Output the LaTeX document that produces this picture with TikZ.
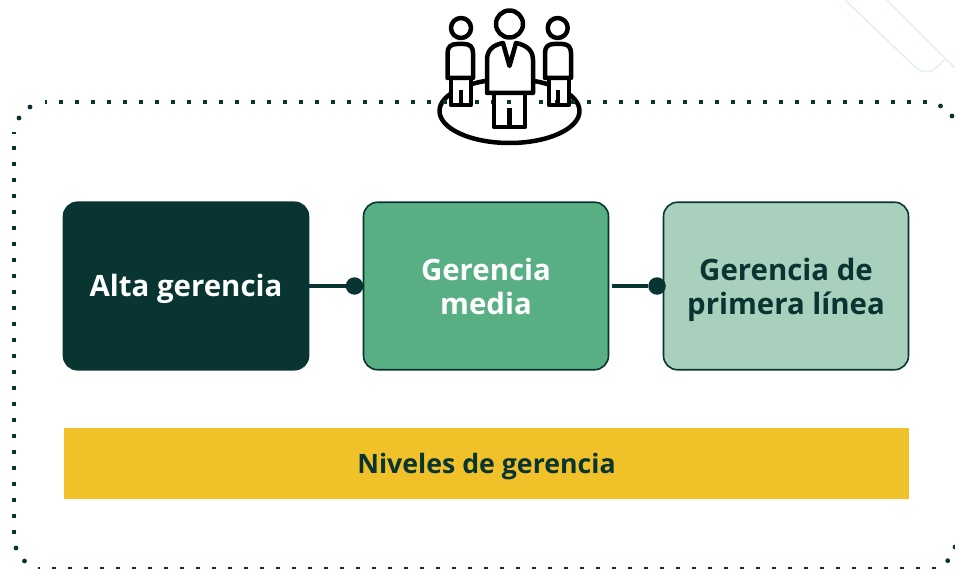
\documentclass[tikz,border=0pt]{standalone}
\usepackage{fontspec}
\setmainfont{Open Sans}
\definecolor{dark}{HTML}{083431}
\definecolor{midg}{HTML}{58AF84}
\definecolor{lightg}{HTML}{A8D0BC}
\definecolor{gold}{HTML}{F1C12A}
\definecolor{wm}{HTML}{E6F0EC}
\newcommand\shifted[2]{\raisebox{-#1}[\height][\depth]{\begin{tabular}{@{}c@{}}#2\end{tabular}}}
\tikzset{
  x=1pt,y=-1pt,
  levelbox/.style={draw=dark,line width=1.6pt,rounded corners=14pt,minimum width=245pt,minimum height=167.5pt,align=center,font=\fontsize{29.4}{34}\selectfont\bfseries,inner sep=0pt},
  banner/.style={fill=gold,minimum width=845pt,minimum height=71pt,font=\fontsize{26.7}{32}\selectfont\bfseries,text=dark,inner sep=0pt},
  link/.style={draw=dark,line width=4pt},
  linkdot/.style={circle,fill=dark,minimum size=17.5pt,inner sep=0pt},
  icon/.style={draw=black,line width=4.5pt,line join=round},
  frameside/.style={dark,line width=4pt,dash pattern=on 4pt off 12pt,dash phase=2pt},
}
\begin{document}
\begin{tikzpicture}
\useasboundingbox (0,0) rectangle (955,569);
% watermark
\draw[wm,line width=1.6pt] (845,0) -- (913,65) .. controls (920,73) and (930,74) .. (937,67) -- (945,59);
\draw[wm,line width=1.6pt] (887,0) -- (955,68);
% icon ground
\draw[icon] (509.5,111) ellipse [x radius=70,y radius=32];
% icon white fills
\fill[white] (447,45) rectangle (473,78) (451,78) rectangle (471,105);
\fill[white] (546,45) rectangle (572,78) (548,78) rectangle (569,105);
\fill[white] (487,50) rectangle (533,94) (494,94) rectangle (525,127);
% dotted frame
\draw[frameside] (45,102) -- (927,102);
\draw[frameside] (38,569) -- (936,569);
\draw[frameside] (14,132) -- (14,534);
\foreach \px/\py in {19/118,30/107,940.5/106,952/116,16/548,24.5/561,947.7/560.7,955/547}
  \fill[dark] (\px,\py) circle (2.4);
% icon people
\draw[icon,fill=white] (509.5,24) circle (13.5);
\draw[icon,fill=white] (461,28) circle (10);
\draw[icon,fill=white] (557.7,28) circle (10);
\draw[icon] (447.5,78) -- (447.5,53) .. controls (447.5,47) and (451,44) .. (457,44) -- (464,44) .. controls (470,44) and (473,47) .. (473,53) -- (473,78) -- cycle;
\draw[icon] (451,78) -- (451,105) -- (471,105) -- (471,78) (461,90) -- (461,105);
\draw[icon] (545,78) -- (545,53) .. controls (545,47) and (548,44) .. (554,44) -- (562,44) .. controls (568,44) and (571,47) .. (571,53) -- (571,78) -- cycle;
\draw[icon] (549,78) -- (549,105) -- (569,105) -- (569,78) (558,90) -- (558,105);
\draw[icon] (487,93) -- (487,60) .. controls (487,50) and (493,45) .. (503,43) -- (509.5,66) -- (516,43) .. controls (526,45) and (533,50) .. (533,60) -- (533,93) -- cycle;
\draw[icon] (494,93) -- (494,127) -- (525,127) -- (525,93) (509.5,108) -- (509.5,127);
% boxes
\node[levelbox,fill=dark,text=white] (alta) at (186,286) {\shifted{3.5pt}{Alta gerencia}};
\node[levelbox,fill=midg,text=white] (media) at (486,286) {\shifted{4.5pt}{Gerencia\\media}};
\node[levelbox,fill=lightg,text=dark] (primera) at (786,286) {\shifted{4.5pt}{Gerencia de\\primera línea}};
\node[banner] (niveles) at (486.5,463.5) {\shifted{4pt}{Niveles de gerencia}};
% connectors
\node[linkdot] (d1) at (354.5,286) {};
\node[linkdot] (d2) at (657,286) {};
\draw[link] (alta.east) -- (d1);
\coordinate (s2) at (612,286);
\draw[link] (s2) -- (d2);
\end{tikzpicture}
\end{document}
